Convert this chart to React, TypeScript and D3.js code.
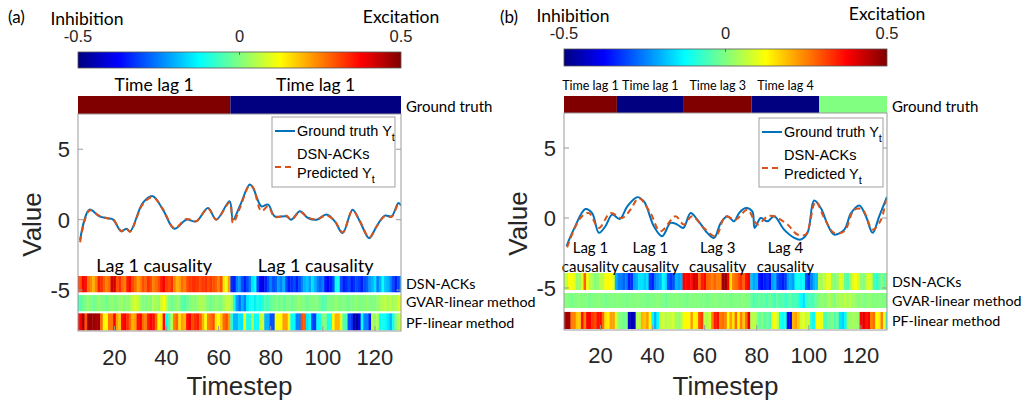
import React from "react";
import * as d3 from "d3";

// ---------------- DATA ----------------
const TIMESTEPS = d3.range(6, 131); // 6..130
const X_TICKS = [20, 40, 60, 80, 100, 120];
const Y_TICKS = [5, 0, -5];
const CBAR_TICKS = [-0.5, 0, 0.5];
const CBAR_TICK_LABELS = ["-0.5", "0", "0.5"];
const HEAT_ROW_LABELS = ["DSN-ACKs", "GVAR-linear method", "PF-linear method"];

// Panel (a)
const A_GT_BOUNDS = [6, 64.5, 130];
const A_GT_VALUES = [0.5, -0.5];
const A_GT_LABELS = ["Time lag 1", "Time lag 1"];
const A_CAUSAL = [["Lag 1 causality"], ["Lag 1 causality"]];

const A_LINE_T = [6.8, 10.4, 14.2, 17.4, 19.5, 22.6, 24.5, 26, 30.9, 34.7, 38.6, 43, 47.6, 51.4, 55.9, 59.1, 64.2, 65.5, 68.1, 71.9, 73.2, 76.4, 79, 81.5, 86, 87.9, 91.2, 94.3, 97.6, 101.4, 104.6, 107.6, 111.4, 114.2, 117.8, 120.6, 123.8, 126.4, 129, 130];
const A_TRUTH = [-1.43, 0.71, 0.24, 0.1, 0, -0.83, -0.64, -0.83, 1.19, 1.67, 0.71, -0.64, 0, -0.12, 0.83, 0, 1.31, 0, 0.95, 2.5, 2.26, 0.95, 1.07, 0.24, 0.24, 0, 0.6, 0.12, 0, 0.36, -0.12, -0.95, 0.71, -0.12, -1.31, -0.48, 0.29, 0.24, 1.19, 1.0];
const A_PRED = [-1.6, 0.65, 0.28, 0.1, 0.02, -0.8, -0.6, -0.85, 1.1, 1.6, 0.75, -0.6, 0.05, -0.1, 0.8, 0.02, 1.2, -0.24, 0.8, 2.45, 2.3, 0.6, 0.95, 0.2, 0.28, 0, 0.55, 0.15, 0.02, 0.3, -0.1, -0.9, 0.65, -0.1, -1.25, -0.5, 0.25, 0.2, 1.1, 1.05];

const A_DSN = [
  0.33, 0.3, 0.38, 0.36, 0.26, 0.24, 0.2, 0.25, 0.35, 0.33,
  0.28, 0.25, 0.27, 0.42, 0.42, 0.3, 0.33, 0.27, 0.25, 0.35,
  0.37, 0.3, 0.27, 0.22, 0.25, 0.3, 0.28, 0.33, 0.3, 0.25,
  0.27, 0.3, 0.35, 0.38, 0.32, 0.3, 0.33, 0.25, 0.2, 0.22,
  0.27, 0.25, 0.3, 0.32, 0.33, 0.33, 0.32, 0.3, 0.32, 0.33,
  0.3, 0.32, 0.3, 0.28, 0.25, 0.3, 0.15, 0.1, 0.22,
  -0.33, -0.35, -0.25, -0.22, -0.3, -0.35, -0.3, -0.25, -0.15, -0.12,
  -0.3, -0.38, -0.4, -0.35, -0.3, -0.25, -0.3, -0.28, -0.22, -0.25,
  -0.2, -0.3, -0.35, -0.33, -0.3, -0.35, -0.3, -0.25, -0.2, -0.18,
  -0.22, -0.15, -0.2, -0.25, -0.28, -0.25, -0.35, -0.38, -0.35, -0.3,
  -0.12, -0.1, -0.3, -0.35, -0.33, -0.3, -0.35, -0.33, -0.3, -0.32,
  -0.35, -0.3, -0.28, -0.22, -0.2, -0.15, -0.25, -0.2, -0.12, -0.18,
  -0.2, -0.25, -0.3, -0.35, -0.3, -0.22,
];
const A_GVAR = [
  -0.06, -0.04, -0.02, 0, 0.02, 0, -0.02, 0, 0.02, 0,
  0, -0.02, 0, 0.02, 0, 0, 0.02, 0.03, 0, 0.02,
  0.03, 0.06, 0.09, 0.06, 0.03, 0, 0, 0.02, 0, 0.05,
  0.03, 0.02, 0.08, 0.12, 0.06, 0, -0.02, 0, 0.02, 0,
  -0.04, -0.05, -0.02, 0, 0.02, 0, 0.03, 0.05, 0.04, 0.02,
  0, -0.02, 0, 0.02, 0, 0, 0.04, 0.06, 0.07, 0.03,
  -0.1, -0.22, -0.27, -0.2, -0.25, -0.15, -0.12, -0.1, -0.14, -0.1,
  -0.12, -0.08, -0.05, -0.06, -0.03, -0.02, 0, -0.02, 0, -0.03,
  0, 0, -0.02, 0, 0, 0.02, 0, 0, -0.02, 0,
  0, 0, 0, -0.02, -0.05, -0.04, 0, 0, 0, 0.02,
  0, 0, 0, 0, -0.02, 0, 0, 0.02, 0, 0,
  0, 0.02, 0, 0, 0, 0.02, 0.04, 0.05, 0.06, 0.04,
  0.06, 0.03, 0.05, 0.08, 0.1,
];
const A_PF = [
  0.38, 0.38, 0.46, 0.3, 0.47, 0.48, 0.47, 0.46, 0.47, 0.27,
  0.13, 0.13, 0.26, 0.26, 0.38, 0.22, 0.18, 0.36, 0.38, 0.33,
  0.27, 0.2, 0.22, 0.36, 0.38, 0.27, 0.25, 0.35, 0.38, 0.36,
  0.27, 0.13, 0.15, 0.37, -0.12, -0.05, 0.06, 0.25, 0.28, 0.15,
  0.22, 0.2, 0.36, 0.38, 0.3, 0.33, 0.35, 0.28, 0.2, 0.12,
  0.25, 0.27, 0.3, 0.15, 0.12, 0.18, 0.27, 0.3, 0.22, -0.1,
  -0.2, -0.2, -0.15, -0.15, 0.12, -0.1, -0.1, 0.05, -0.12, -0.12,
  0.07, 0.07, -0.2, -0.2, -0.3, -0.3, 0.12, 0.12, 0.13, 0.22,
  0.22, 0.12, -0.12, -0.12, -0.25, -0.25, 0.3, 0.28, -0.15, -0.12,
  -0.3, -0.32, -0.12, -0.1, 0, 0, -0.1, -0.1, 0.12, 0.2,
  0.2, 0.1, -0.05, -0.05, -0.3, -0.32, -0.45, -0.48, -0.4, -0.12,
  -0.25, -0.25, -0.35, 0.05, 0.02, 0.05, -0.12, -0.1, -0.12, -0.15,
  -0.2, -0.1, 0, 0.05, 0.08,
];

// Panel (b)
const B_GT_BOUNDS = [6, 26.3, 52, 78, 104, 130];
const B_GT_VALUES = [0.5, -0.5, 0.5, -0.5, 0];
const B_GT_LABELS = ["Time lag 1", "Time lag 1", "Time lag 3", "Time lag 4"];
const B_CAUSAL = [["Lag 1", "causality"], ["Lag 1", "causality"], ["Lag 3", "causality"], ["Lag 4", "causality"]];

const B_LINE_T = [7, 9.7, 14.2, 16.8, 19.4, 21.9, 24.5, 27.4, 30.3, 34.1, 36.7, 40.5, 43.7, 46.9, 49.5, 51.8, 54.6, 57.2, 61, 63.6, 66.2, 68.7, 71.3, 73.2, 75.8, 78.3, 79.2, 81.5, 84.1, 86.7, 90.5, 94.4, 96.9, 99.5, 102, 104.6, 107.2, 109.7, 113.6, 116.2, 119.4, 121.9, 124.5, 127, 130];
const B_TRUTH = [-2.0, -0.83, 0.64, 0.35, -1.06, -0.59, 0.24, -0.07, 0.83, 1.49, 1.18, -0.59, -1.3, -0.35, -0.47, -0.71, 0.35, -0.12, -1.06, -1.42, -0.35, 0.12, -0.24, 0.35, 0.71, 0.47, -0.71, 0, -0.24, 0.12, -0.83, -1.42, -1.54, -1.06, 1.25, 0.71, -0.47, -1.18, -0.83, 0.35, 0.9, 0.12, -1.06, 0.12, 1.5];
const B_PRED_T = [7.2, 12.3, 15.5, 19.4, 23.8, 28.3, 31.5, 34.7, 39.2, 43, 48.8, 52, 55.2, 59.7, 64.2, 68, 71.9, 76.4, 80.3, 84.1, 86.7, 91.8, 95.6, 98.8, 102.6, 105.9, 109.7, 113.6, 117.4, 120.6, 124.5, 127.7, 129.6];
const B_PRED = [-2.1, 0, 0.35, -0.71, 0.35, 0, 0.59, 1.42, 0.35, -0.95, 0.12, -0.47, 0.12, -0.71, -1.3, 0.12, -0.12, 0.59, -0.47, 0.12, 0.12, -0.47, -1.18, -1.18, 1.18, 0, -1.06, -0.95, 0.59, 0.59, -0.83, -0.12, 1.3];

const B_DSN = [
  0.05, 0.06, 0.12, 0.12, 0.1, 0.02, 0.03, 0.1, 0.28, 0.12,
  0.05, 0.04, 0, 0.02, 0.06, 0.06, 0.12, 0.13, 0.12, 0.1,
  -0.2, -0.25, -0.25, -0.28, -0.25, -0.35, -0.33, -0.22, -0.2, -0.15,
  -0.15, -0.18, -0.15, -0.33, -0.35, -0.25, -0.22, -0.2, -0.12, -0.15,
  -0.3, -0.32, -0.3, -0.2, -0.22, -0.2, 0.38, 0.37, 0.38, 0.36,
  0.42, 0.4, 0.27, 0.35, 0.37, 0.28, 0.27, 0.25, 0.28, 0.25,
  0.25, 0.47, 0.48, 0.38, 0.15, 0.25, 0.27, 0.3, 0.33, 0.28,
  0.36, 0.38, -0.18, -0.22, -0.2, -0.35, -0.37, -0.35, -0.33, -0.36,
  -0.22, -0.2, -0.3, -0.33, -0.35, -0.32, -0.22, -0.2, -0.22, -0.12,
  -0.1, -0.13, -0.12, -0.3, -0.33, -0.25, -0.2, -0.18, 0.05, 0.04,
  0.06, 0.1, 0.1, 0.02, 0, 0.02, 0.1, 0.08, -0.03, -0.05,
  0.03, 0.1, 0.12, 0.08, 0.02, 0, 0.06, 0.1, 0.08, -0.06,
  -0.08, -0.05, 0, -0.04, 0.02,
];
const B_GVAR = [
  0, 0.01, 0, -0.01, 0, 0, 0.01, 0, 0, 0,
  -0.01, 0, 0, 0.01, 0, 0, -0.01, 0, 0, 0,
  0, 0.01, 0, 0, -0.01, 0, 0, 0, 0.01, 0,
  0, 0, -0.01, 0, 0, 0, 0.01, 0, 0, -0.02,
  0, 0, 0, 0.01, 0, 0, 0, -0.01, 0, 0,
  0.01, 0, 0, 0, 0, -0.01, 0, 0, 0.01, 0,
  0, 0, 0, 0, -0.01, 0, 0, 0, 0, 0.01,
  0, 0, -0.03, -0.05, -0.04, -0.02, -0.04, -0.03, -0.05, -0.02,
  -0.04, -0.06, -0.03, -0.05, -0.04, -0.07, -0.05, -0.03, -0.06, -0.05,
  -0.08, -0.12, -0.15, -0.08, -0.05, -0.06, -0.04, -0.02, 0, 0.02,
  0, 0.02, 0.04, 0.02, 0, 0.03, 0.05, 0.03, 0.06, 0.04,
  0.06, 0.03, 0.02, 0, 0.02, 0, 0, 0.02, 0.01, 0,
  0, 0.01, 0, 0, 0,
];
const B_PF = [
  0.47, 0.47, 0.46, 0.25, 0.25, 0.18, 0.18, 0.36, 0.25, 0.38,
  0.38, 0.32, 0.3, 0.36, 0.37, 0.27, 0.15, 0.14, 0.22, 0.22,
  0.08, 0.02, 0, -0.02, 0, -0.42, -0.45, -0.43, 0.05, 0.05,
  0.2, 0.18, 0.22, 0.12, -0.12, -0.2, -0.12, 0.06, 0.08, 0.05,
  0.07, 0.06, 0.08, 0.03, 0.02, 0.04, 0.12, 0.13, 0.12, 0.22,
  0.13, 0.14, 0.3, 0.32, 0.06, 0.05, 0.08, 0.25, 0.35, 0.36,
  0.25, 0.27, 0.25, 0.13, 0.22, 0.15, 0.27, 0.13, 0.25, 0.18,
  0.27, 0.4, 0.05, 0.06, 0.03, -0.03, 0, -0.04, -0.02, -0.05,
  0.1, 0.12, 0.08, -0.1, -0.12, -0.1, -0.38, -0.4, 0.2, 0.22,
  0.18, 0.08, 0.1, 0.06, 0.08, -0.1, -0.12, 0.12, 0.13, 0.1,
  -0.05, -0.04, -0.02, 0, -0.05, -0.03, -0.15, -0.17, -0.12, 0.03,
  0.02, 0.04, 0.03, 0.02, 0.38, 0.4, 0.36, 0.38, 0.25, 0.27,
  0.12, 0.14, 0.25, 0.1, -0.1,
];

// ---------------- STYLE ----------------
const SANS = "'Liberation Sans', Arial, sans-serif";
const CAL = "Lato, 'Open Sans', sans-serif";
const AXIS_COLOR = "#9a9a9a";
const TEXT_COLOR = "#262626";
const BLUE = "#0072BD";
const ORANGE = "#D95319";

const jetT = d3.scaleLinear().domain([-0.5, 0.5]).range([0, 1]).clamp(true);
function jet(v: number): string {
  const t = jetT(v);
  const c = (x: number) => Math.max(0, Math.min(1, x));
  const r = c(1.5 - Math.abs(4 * t - 3));
  const g = c(1.5 - Math.abs(4 * t - 2));
  const b = c(1.5 - Math.abs(4 * t - 1));
  return d3.rgb(r * 255, g * 255, b * 255).formatHex();
}

interface PanelCfg {
  id: string;
  tag: string;
  tagX: number;
  x0: number; x1: number; y0: number; y1: number;
  yDomain: [number, number];
  cbY0: number; cbY1: number; cbNumY: number; cbTitleY: number; cbExcY: number;
  gtY0: number;
  gtBounds: number[]; gtValues: number[]; gtLabels: string[]; gtLabelSize: number; gtLabelY: number;
  causal: string[][]; causalSize: number; causalY: number[];
  lineT: number[]; truth: number[]; predT: number[]; pred: number[];
  heat: number[][]; heatRows: [number, number][];
  rowLabelY: number[];
  legend: [number, number, number, number];
  valueX: number;
  tickLabelY: number;
  titleY: number;
}

const PANELS: PanelCfg[] = [
  {
    id: "a", tag: "(a)", tagX: 8,
    x0: 78, x1: 401, y0: 114, y1: 331,
    yDomain: [-7.9, 7.5],
    cbY0: 52, cbY1: 68, cbNumY: 42, cbTitleY: 25, cbExcY: 23,
    gtY0: 96,
    gtBounds: A_GT_BOUNDS, gtValues: A_GT_VALUES, gtLabels: A_GT_LABELS, gtLabelSize: 17.5, gtLabelY: 91,
    causal: A_CAUSAL, causalSize: 18, causalY: [272],
    lineT: A_LINE_T, truth: A_TRUTH, predT: A_LINE_T, pred: A_PRED,
    heat: [A_DSN, A_GVAR, A_PF],
    heatRows: [[-4.0, -5.15], [-5.35, -6.5], [-6.65, -7.85]],
    rowLabelY: [289, 307, 328],
    legend: [272, 117, 395, 187],
    valueX: 41, tickLabelY: 365, titleY: 395,
  },
  {
    id: "b", tag: "(b)", tagX: 500,
    x0: 564, x1: 887, y0: 113, y1: 330,
    yDomain: [-8, 7.5],
    cbY0: 49, cbY1: 66, cbNumY: 39, cbTitleY: 22, cbExcY: 20,
    gtY0: 96,
    gtBounds: B_GT_BOUNDS, gtValues: B_GT_VALUES, gtLabels: B_GT_LABELS, gtLabelSize: 12.5, gtLabelY: 90,
    causal: B_CAUSAL, causalSize: 15, causalY: [253, 272],
    lineT: B_LINE_T, truth: B_TRUTH, predT: B_PRED_T, pred: B_PRED,
    heat: [B_DSN, B_GVAR, B_PF],
    heatRows: [[-3.93, -5.14], [-5.36, -6.43], [-6.71, -7.93]],
    rowLabelY: [287, 306, 326],
    legend: [759, 118, 883, 187],
    valueX: 527, tickLabelY: 363, titleY: 395,
  },
];

function Panel({ p }: { p: PanelCfg }) {
  const x = d3.scaleLinear().domain([6, 130]).range([p.x0, p.x1]);
  const y = d3.scaleLinear().domain(p.yDomain).range([p.y1, p.y0]);
  const line = d3
    .line<[number, number]>()
    .x((d) => x(d[0]))
    .y((d) => y(d[1]))
    .curve(d3.curveCatmullRom.alpha(0.5));
  const truthPts = p.lineT.map((t, i) => [t, p.truth[i]] as [number, number]);
  const predPts = p.predT.map((t, i) => [t, p.pred[i]] as [number, number]);
  const clipId = `clip-${p.id}`;
  const gradId = `grad-${p.id}`;
  const cx = (p.x0 + p.x1) / 2;
  const cbScale = d3.scaleLinear().domain([-0.5, 0.5]).range([p.x0, p.x1]);
  const stops = d3.range(0, 65).map((i) => i / 64);
  const tick = 5;
  const [lx0, ly0, lx1, ly1] = p.legend;
  const segCenters = p.gtValues.map((_, i) => (p.gtBounds[i] + p.gtBounds[i + 1]) / 2);

  return (
    <g>
      <defs>
        <clipPath id={clipId}>
          <rect x={p.x0} y={p.y0} width={p.x1 - p.x0} height={p.y1 - p.y0} />
        </clipPath>
        <linearGradient id={gradId} x1="0" x2="1" y1="0" y2="0">
          {stops.map((s) => (
            <stop key={s} offset={s} stopColor={jet(s - 0.5)} />
          ))}
        </linearGradient>
      </defs>

      {/* panel tag */}
      <text x={p.tagX} y={23} fontFamily={CAL} fontSize={17} fill="#000">{p.tag}</text>

      {/* colorbar */}
      <text x={cbScale(-0.5) + 9} y={p.cbTitleY} fontFamily={CAL} fontSize={17.5} textAnchor="middle" fill="#000">Inhibition</text>
      <text x={cbScale(0.5)} y={p.cbExcY} fontFamily={CAL} fontSize={17.5} textAnchor="middle" fill="#000">Excitation</text>
      {CBAR_TICKS.map((v, i) => (
        <text key={v} x={cbScale(v)} y={p.cbNumY} fontFamily={SANS} fontSize={16.5} textAnchor="middle" fill={TEXT_COLOR}>
          {CBAR_TICK_LABELS[i]}
        </text>
      ))}
      <rect x={p.x0} y={p.cbY0} width={p.x1 - p.x0} height={p.cbY1 - p.cbY0} fill={`url(#${gradId})`} stroke="#555" strokeWidth={0.8} />
      <line x1={cbScale(0)} x2={cbScale(0)} y1={p.cbY0} y2={p.cbY0 + 3} stroke="#555" strokeWidth={0.8} />

      {/* ground truth bar */}
      {p.gtValues.map((v, i) => (
        <rect key={i} x={x(p.gtBounds[i])} y={p.gtY0} width={x(p.gtBounds[i + 1]) - x(p.gtBounds[i])} height={p.y0 - p.gtY0} fill={jet(v)} />
      ))}
      {p.gtLabels.map((l, i) => (
        <text key={i} x={x(segCenters[i])} y={p.gtLabelY} fontFamily={CAL} fontSize={p.gtLabelSize} textAnchor="middle" fill="#000">{l}</text>
      ))}
      <text x={p.x1 + 5} y={p.gtY0 + 16} fontFamily={CAL} fontSize={15} fill="#000">Ground truth</text>

      {/* plot background */}
      <rect x={p.x0} y={p.y0} width={p.x1 - p.x0} height={p.y1 - p.y0} fill="#fff" />

      {/* heatmaps */}
      <g clipPath={`url(#${clipId})`}>
        {p.heat.map((row, r) =>
          row.map((v, i) => {
            const t = TIMESTEPS[i];
            const xa = x(t - 0.5);
            const xb = x(t + 0.5);
            return (
              <rect key={`${r}-${i}`} x={xa} y={y(p.heatRows[r][0])} width={xb - xa + 0.4} height={y(p.heatRows[r][1]) - y(p.heatRows[r][0])} fill={jet(v)} />
            );
          })
        )}
        {/* lines */}
        <path d={line(truthPts) || ""} fill="none" stroke={BLUE} strokeWidth={2} />
        <path d={line(predPts) || ""} fill="none" stroke={ORANGE} strokeWidth={2} strokeDasharray="6 4" />
      </g>

      {/* causality labels */}
      {p.causal.map((lines, i) =>
        lines.map((l, j) => (
          <text key={`${i}-${j}`} x={x(segCenters[i])} y={p.causalY[j]} fontFamily={CAL} fontSize={p.causalSize} textAnchor="middle" fill="#000">{l}</text>
        ))
      )}

      {/* row labels */}
      {HEAT_ROW_LABELS.map((l, i) => (
        <text key={l} x={p.x1 + 5} y={p.rowLabelY[i]} fontFamily={CAL} fontSize={14.3} fill="#000">{l}</text>
      ))}

      {/* axes box */}
      <rect x={p.x0} y={p.y0} width={p.x1 - p.x0} height={p.y1 - p.y0} fill="none" stroke={AXIS_COLOR} strokeWidth={1} />
      {X_TICKS.map((t) => (
        <g key={t}>
          <line x1={x(t)} x2={x(t)} y1={p.y1} y2={p.y1 - tick} stroke={AXIS_COLOR} />
          <text x={x(t)} y={p.tickLabelY} fontFamily={SANS} fontSize={22} textAnchor="middle" fill={TEXT_COLOR}>{t}</text>
        </g>
      ))}
      {Y_TICKS.map((t) => (
        <g key={t}>
          <line x1={p.x0} x2={p.x0 + tick} y1={y(t)} y2={y(t)} stroke={AXIS_COLOR} />
          <line x1={p.x1} x2={p.x1 - tick} y1={y(t)} y2={y(t)} stroke={AXIS_COLOR} />
          <text x={p.x0 - 8} y={y(t) + 8} fontFamily={SANS} fontSize={22} textAnchor="end" fill={TEXT_COLOR}>{t}</text>
        </g>
      ))}
      <text x={cx} y={p.titleY} fontFamily={SANS} fontSize={26} textAnchor="middle" fill={TEXT_COLOR}>Timestep</text>
      <text transform={`translate(${p.valueX},${(p.y0 + p.y1) / 2 + 2}) rotate(-90)`} fontFamily={SANS} fontSize={26} textAnchor="middle" fill={TEXT_COLOR}>Value</text>

      {/* legend */}
      <rect x={lx0} y={ly0} width={lx1 - lx0} height={ly1 - ly0} fill="#fff" stroke="#a0a0a0" strokeWidth={1} />
      <line x1={lx0 + 3} x2={lx0 + 23} y1={ly0 + 14} y2={ly0 + 14} stroke={BLUE} strokeWidth={2} />
      <text x={lx0 + 25} y={ly0 + 19} fontFamily={SANS} fontSize={14.5} fill="#000">
        Ground truth Y<tspan fontSize={11} dy={5}>t</tspan>
      </text>
      <line x1={lx0 + 3} x2={lx0 + 23} y1={ly0 + 50} y2={ly0 + 50} stroke={ORANGE} strokeWidth={2} strokeDasharray="6 4" />
      <text x={lx0 + 25} y={ly0 + 42} fontFamily={SANS} fontSize={14.5} fill="#000">DSN-ACKs</text>
      <text x={lx0 + 25} y={ly0 + 61} fontFamily={SANS} fontSize={14.5} fill="#000">
        Predicted Y<tspan fontSize={11} dy={5}>t</tspan>
      </text>
    </g>
  );
}

export default function App() {
  return (
    <svg width={1024} height={400} style={{ position: "absolute", left: 0, top: 0, background: "#fff" }}>
      <rect width={1024} height={400} fill="#fff" />
      {PANELS.map((p) => (
        <Panel key={p.id} p={p} />
      ))}
    </svg>
  );
}
